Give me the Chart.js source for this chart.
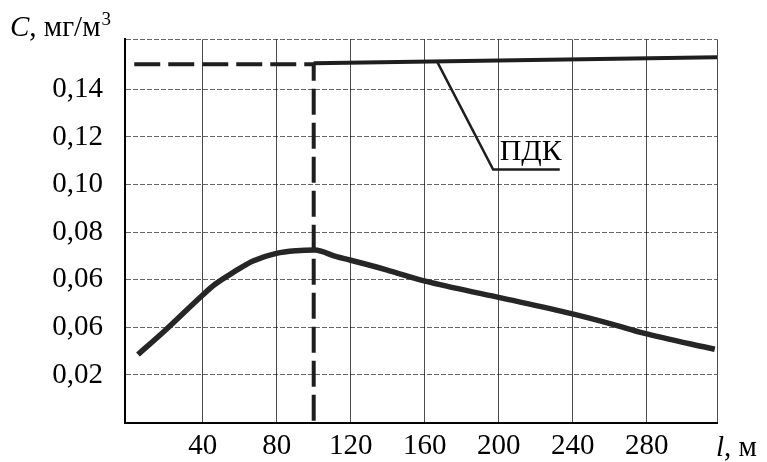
<!DOCTYPE html>
<html>
<head>
<meta charset="utf-8">
<script src="https://cdn.jsdelivr.net/npm/chart.js@4"></script>
<style>
  html, body { margin: 0; padding: 0; background: #fff; }
  #wrap { width: 767px; height: 462px; }
</style>
</head>
<body>
<div id="wrap"><canvas id="chart" width="767" height="462"></canvas></div>
<script>
// Concentration curve (l in m, C in mg/m3)
const curveL = [5, 19.5, 39.3, 46.5, 57.3, 67.2, 79.8, 90.6, 100.5, 112.3, 119.5, 139.3, 160.9, 198.8, 239.3, 261.6, 277.8, 316.8];
const curveC = [0.0286, 0.0386, 0.0531, 0.058, 0.0635, 0.0679, 0.0711, 0.0722, 0.0725, 0.0697, 0.0683, 0.0642, 0.0593, 0.0528, 0.0458, 0.0413, 0.0377, 0.0308];

// dashed line: horizontal then drop to the axis
const dashL = [3, 100, 100];
const dashC = [0.1506, 0.1506, 0];

// solid line to the right of the drop
const topL = [100, 318];
const topC = [0.151, 0.1535];

// leader line for the ПДК label
const pdkL = [166.5, 197, 233];
const pdkC = [0.152, 0.1063, 0.1063];
const pdkLabelAt = [200.5, 0.1104];

// ticks (the original prints 0,06 twice)
const xTicks = [40, 80, 120, 160, 200, 240, 280];
const yTicks = [0.02, 0.04, 0.06, 0.08, 0.10, 0.12, 0.14];
const yTickLabels = ['0,02', '0,06', '0,06', '0,08', '0,10', '0,12', '0,14'];

const X_MIN = -2, X_MAX = 318;
const Y_MIN = 0, Y_MAX = 0.161;

const SERIF = '"Liberation Serif", "Times New Roman", serif';
const INK = '#1e1e1e';

function pts(xs, ys) {
  return xs.map((x, i) => ({ x: x, y: ys[i] }));
}

// axis titles and the ПДК label
const labelsPlugin = {
  id: 'labels',
  afterDraw(chart) {
    const ctx = chart.ctx;
    const xs = chart.scales.x, ys = chart.scales.y;
    ctx.save();
    ctx.fillStyle = '#000';
    ctx.textBaseline = 'alphabetic';
    ctx.textAlign = 'left';

    // C, мг/м3
    let x = 10, y = 36;
    ctx.font = 'italic 29px ' + SERIF;
    ctx.fillText('C', x, y);
    x += ctx.measureText('C').width;
    ctx.font = '29px ' + SERIF;
    ctx.fillText(', мг/м', x, y);
    x += ctx.measureText(', мг/м').width;
    ctx.font = '19px ' + SERIF;
    ctx.fillText('3', x + 1, y - 11);

    // l, м
    x = 716; y = 456;
    ctx.font = 'italic 29px ' + SERIF;
    ctx.fillText('l', x, y);
    x += ctx.measureText('l').width;
    ctx.font = '29px ' + SERIF;
    ctx.fillText(', м', x, y);

    // ПДК
    ctx.font = '30px ' + SERIF;
    ctx.fillText('ПДК', xs.getPixelForValue(pdkLabelAt[0]), ys.getPixelForValue(pdkLabelAt[1]));
    ctx.restore();
  }
};

new Chart(document.getElementById('chart').getContext('2d'), {
  type: 'line',
  data: {
    datasets: [
      {
        label: 'C',
        data: pts(curveL, curveC),
        borderColor: '#262626',
        borderWidth: 5.5,
        pointRadius: 0,
        cubicInterpolationMode: 'monotone',
        fill: false
      },
      {
        label: 'dash',
        data: pts(dashL, dashC),
        borderColor: INK,
        borderWidth: 4,
        borderDash: [26, 8],
        pointRadius: 0,
        tension: 0,
        fill: false
      },
      {
        label: 'top',
        data: pts(topL, topC),
        borderColor: INK,
        borderWidth: 4,
        pointRadius: 0,
        tension: 0,
        fill: false
      },
      {
        label: 'ПДК',
        data: pts(pdkL, pdkC),
        borderColor: INK,
        borderWidth: 2.5,
        pointRadius: 0,
        tension: 0,
        fill: false
      }
    ]
  },
  options: {
    responsive: false,
    animation: false,
    layout: { padding: { top: 35, right: 50, left: 0, bottom: 0 } },
    plugins: {
      legend: { display: false },
      tooltip: { enabled: false },
      title: { display: false }
    },
    scales: {
      x: {
        type: 'linear',
        min: X_MIN,
        max: X_MAX,
        afterBuildTicks: function(scale) {
          scale.ticks = xTicks.concat([X_MAX]).map(v => ({ value: v }));
        },
        afterFit: function(scale) { scale.height = 39; },
        ticks: {
          color: '#000',
          font: { family: SERIF, size: 29 },
          padding: 6,
          maxRotation: 0,
          autoSkip: false,
          callback: function(value) {
            return xTicks.includes(value) ? String(value) : '';
          }
        },
        grid: {
          color: 'rgba(0,0,0,0.7)',
          lineWidth: 1,
          drawTicks: false
        },
        border: { display: true, color: '#000', width: 2 }
      },
      y: {
        type: 'linear',
        min: Y_MIN,
        max: Y_MAX,
        afterBuildTicks: function(scale) {
          scale.ticks = yTicks.concat([Y_MAX]).map(v => ({ value: v }));
        },
        afterFit: function(scale) { scale.width = 125; },
        ticks: {
          color: '#000',
          font: { family: SERIF, size: 29 },
          padding: 22,
          autoSkip: false,
          callback: function(value) {
            const i = yTicks.findIndex(t => Math.abs(t - value) < 1e-6);
            return i >= 0 ? yTickLabels[i] : '';
          }
        },
        grid: {
          color: 'rgba(0,0,0,0.6)',
          lineWidth: 1,
          drawTicks: false
        },
        border: { display: true, color: '#000', width: 2, dash: [5, 2] }
      }
    }
  },
  plugins: [labelsPlugin]
});
</script>
</body>
</html>
